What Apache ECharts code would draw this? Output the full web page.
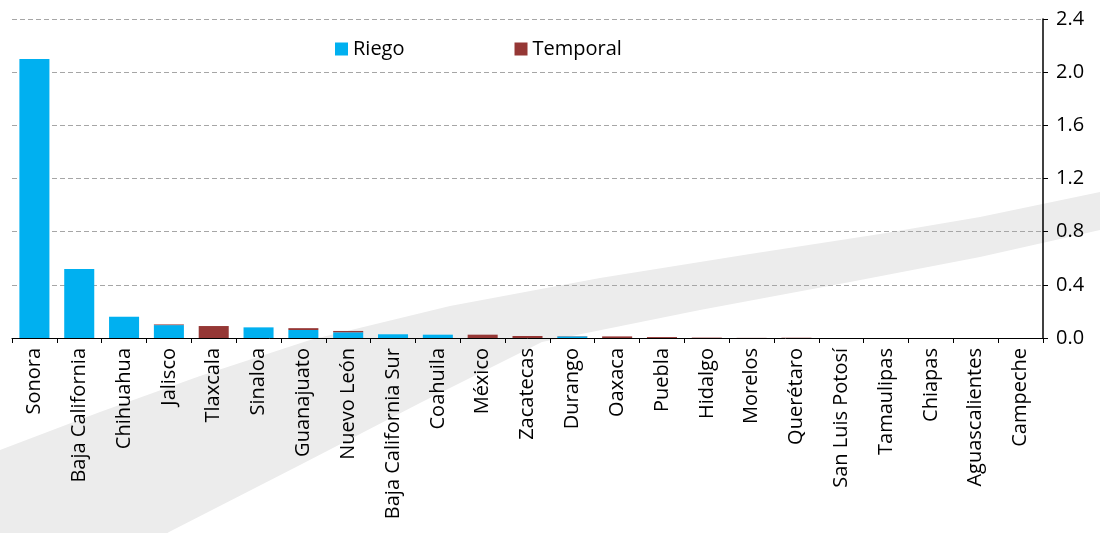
<!DOCTYPE html>
<html>
<head>
<meta charset="utf-8">
<script src="https://cdn.jsdelivr.net/npm/echarts@6/dist/echarts.min.js"></script>
<style>
html, body { margin: 0; padding: 0; background: #fff; }
#main { width: 1100px; height: 533px; }
</style>
</head>
<body>
<div id="main"></div>
<script>
// estados ordenados de mayor a menor
var estados = ['Sonora', 'Baja California', 'Chihuahua', 'Jalisco', 'Tlaxcala', 'Sinaloa',
    'Guanajuato', 'Nuevo León', 'Baja California Sur', 'Coahuila', 'México', 'Zacatecas',
    'Durango', 'Oaxaca', 'Puebla', 'Hidalgo', 'Morelos', 'Querétaro', 'San Luis Potosí',
    'Tamaulipas', 'Chiapas', 'Aguascalientes', 'Campeche'];
var riego = [2.10, 0.52, 0.16, 0.097, 0, 0.08, 0.060, 0.043, 0.028, 0.025, 0, 0,
    0.012, 0, 0, 0, 0, 0, 0, 0, 0, 0, 0];
var temporal = [0, 0, 0, 0.005, 0.09, 0, 0.014, 0.010, 0, 0, 0.025, 0.015,
    0.002, 0.012, 0.007, 0.003, 0.001, 0.002, 0, 0, 0, 0, 0];
var ejeY = { min: 0, max: 2.4, intervalo: 0.4 };

var fuente = 'Open Sans';

// franja gris decorativa del fondo
var franjaSup = [[0, 450], [100, 412], [200, 376], [310, 340], [450, 306], [600, 278],
    [750, 254], [880, 234], [980, 217], [1100, 192]];
var franjaInf = [[1100, 230], [980, 257], [850, 282], [700, 310], [542, 342], [420, 403],
    [300, 465], [169, 532], [150, 545], [0, 545]];

var myChart = echarts.init(document.getElementById('main'));
myChart.setOption({
    animation: false,
    textStyle: { fontFamily: fuente },
    graphic: [{
        type: 'polygon',
        z: -10,
        silent: true,
        shape: { points: franjaSup.concat(franjaInf) },
        style: { fill: '#ececec' }
    }],
    legend: {
        data: ['Riego', 'Temporal'],
        left: 330,
        top: 34,
        icon: 'rect',
        itemWidth: 13,
        itemHeight: 13,
        itemGap: 110,
        textStyle: { fontFamily: fuente, fontSize: 20, color: '#000' }
    },
    grid: { left: 12, right: 57, top: 19, bottom: 195 },
    xAxis: {
        type: 'category',
        data: estados,
        axisLine: { lineStyle: { color: '#000', width: 1 } },
        axisTick: { show: true, length: 5, lineStyle: { color: '#000' } },
        axisLabel: {
            rotate: 90,
            interval: 0,
            margin: 10,
            fontFamily: fuente,
            fontSize: 20,
            color: '#000'
        }
    },
    yAxis: {
        type: 'value',
        position: 'right',
        min: ejeY.min,
        max: ejeY.max,
        interval: ejeY.intervalo,
        axisLine: { show: true, lineStyle: { color: '#000', width: 1.5 } },
        axisTick: { show: true, length: 5, lineStyle: { color: '#000' } },
        axisLabel: {
            margin: 13,
            fontFamily: fuente,
            fontSize: 20,
            color: '#000',
            formatter: function (v) { return v.toFixed(1); }
        },
        splitLine: { lineStyle: { color: '#a6a6a6', type: [5, 3] } }
    },
    series: [{
        name: 'Riego',
        type: 'bar',
        stack: 'total',
        data: riego,
        barCategoryGap: '33%',
        itemStyle: { color: '#00B0F0' }
    }, {
        name: 'Temporal',
        type: 'bar',
        stack: 'total',
        data: temporal,
        itemStyle: { color: '#953735' }
    }]
});
</script>
</body>
</html>
